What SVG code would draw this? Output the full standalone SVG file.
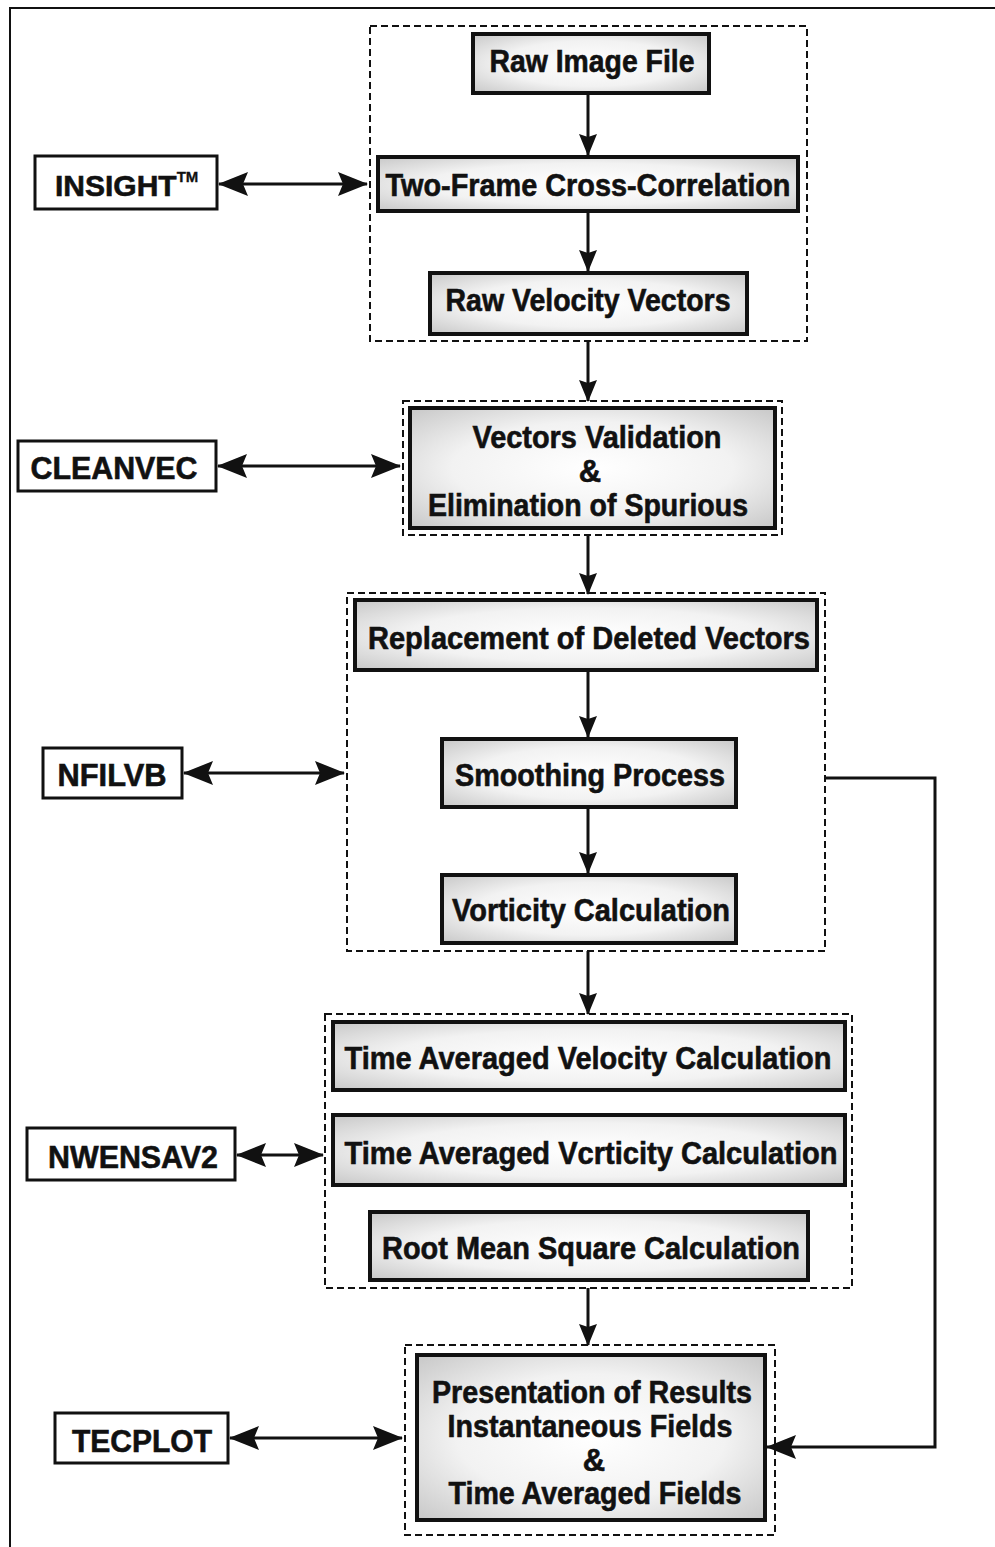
<svg xmlns="http://www.w3.org/2000/svg" width="995" height="1547" viewBox="0 0 995 1547">
<style>
.frame{fill:none;stroke:#111;stroke-width:2}
.grp{fill:none;stroke:#111;stroke-width:2;stroke-dasharray:7,4}
.proc{fill:url(#speck);stroke:#111;stroke-width:4}
.tool{fill:#fff;stroke:#111;stroke-width:3}
.conn{fill:none;stroke:#111;stroke-width:3}
text{font-family:"Liberation Sans Narrow","Liberation Sans",Arial,sans-serif;font-weight:bold;fill:#111;stroke:#111;stroke-width:0.6;text-anchor:middle}
.t{font-size:31px}
.s{font-size:15px;stroke-width:0.3}
</style>
<defs>
<radialGradient id="speck" cx="50%" cy="50%" r="70%">
<stop offset="0" stop-color="#ffffff"/>
<stop offset="0.55" stop-color="#f2f2f2"/>
<stop offset="1" stop-color="#c8c8c8"/>
</radialGradient>
<marker id="ah" viewBox="0 0 30 24" refX="29" refY="12" markerWidth="30" markerHeight="24" markerUnits="userSpaceOnUse" orient="auto-start-reverse">
<path d="M0,0 L30,12 L0,24 L5,12 z" fill="#111"/>
</marker>
<marker id="av" viewBox="0 0 22 18" refX="21" refY="9" markerWidth="22" markerHeight="18" markerUnits="userSpaceOnUse" orient="auto">
<path d="M0,0 L22,9 L0,18 L3,9 z" fill="#111"/>
</marker>
</defs>
<path class="frame" d="M10,1547 V8 H995"/>

<g id="connectors">
<line class="conn" x1="588" y1="93" x2="588" y2="155" marker-end="url(#av)"/>
<line class="conn" x1="588" y1="211" x2="588" y2="271" marker-end="url(#av)"/>
<line class="conn" x1="588" y1="341" x2="588" y2="401" marker-end="url(#av)"/>
<line class="conn" x1="588" y1="535" x2="588" y2="594" marker-end="url(#av)"/>
<line class="conn" x1="588" y1="670" x2="588" y2="737" marker-end="url(#av)"/>
<line class="conn" x1="588" y1="807" x2="588" y2="873" marker-end="url(#av)"/>
<line class="conn" x1="588" y1="951" x2="588" y2="1014" marker-end="url(#av)"/>
<line class="conn" x1="588" y1="1288" x2="588" y2="1345" marker-end="url(#av)"/>
<line class="conn" x1="219" y1="184" x2="367" y2="184" marker-start="url(#ah)" marker-end="url(#ah)"/>
<line class="conn" x1="218" y1="466" x2="400" y2="466" marker-start="url(#ah)" marker-end="url(#ah)"/>
<line class="conn" x1="184" y1="773" x2="344" y2="773" marker-start="url(#ah)" marker-end="url(#ah)"/>
<line class="conn" x1="237" y1="1155" x2="323" y2="1155" marker-start="url(#ah)" marker-end="url(#ah)"/>
<line class="conn" x1="230" y1="1438" x2="402" y2="1438" marker-start="url(#ah)" marker-end="url(#ah)"/>
<path class="conn" d="M826,778 H935 V1447 H767" marker-end="url(#ah)"/>
</g>

<g id="group-insight">
<rect class="grp" x="370" y="26" width="437" height="315"/>
</g>
<g id="raw-image-file">
<rect class="proc" x="473" y="34" width="236" height="59"/>
<text class="t" x="592" y="72" textLength="205" lengthAdjust="spacingAndGlyphs">Raw Image File</text>
</g>
<g id="two-frame">
<rect class="proc" x="378" y="157" width="420" height="54"/>
<text class="t" x="588" y="196" textLength="405" lengthAdjust="spacingAndGlyphs">Two-Frame Cross-Correlation</text>
</g>
<g id="raw-velocity">
<rect class="proc" x="430" y="273" width="317" height="61"/>
<text class="t" x="588" y="311" textLength="285" lengthAdjust="spacingAndGlyphs">Raw Velocity Vectors</text>
</g>
<g id="insight">
<rect class="tool" x="35" y="156" width="182" height="53"/>
<text x="55" y="196" style="font-size:30px;text-anchor:start">INSIGHT<tspan style="font-size:15px;stroke-width:0.3" dy="-14">TM</tspan></text>
</g>

<g id="group-cleanvec">
<rect class="grp" x="403" y="401" width="379" height="134"/>
</g>
<g id="validation">
<rect class="proc" x="410" y="408" width="365" height="120"/>
<text class="t" x="597" y="448" textLength="249" lengthAdjust="spacingAndGlyphs">Vectors Validation</text>
<text class="t" x="590" y="482">&amp;</text>
<text class="t" x="588" y="516" textLength="320" lengthAdjust="spacingAndGlyphs">Elimination of Spurious</text>
</g>
<g id="cleanvec">
<rect class="tool" x="18" y="441" width="198" height="50"/>
<text class="t" x="114" y="479" textLength="167" lengthAdjust="spacingAndGlyphs">CLEANVEC</text>
</g>

<g id="group-nfilvb">
<rect class="grp" x="347" y="593" width="478" height="358"/>
</g>
<g id="replacement">
<rect class="proc" x="355" y="600" width="462" height="70"/>
<text class="t" x="589" y="649" textLength="442" lengthAdjust="spacingAndGlyphs">Replacement of Deleted Vectors</text>
</g>
<g id="smoothing">
<rect class="proc" x="442" y="739" width="294" height="68"/>
<text class="t" x="590" y="786" textLength="270" lengthAdjust="spacingAndGlyphs">Smoothing Process</text>
</g>
<g id="vorticity">
<rect class="proc" x="442" y="875" width="294" height="68"/>
<text class="t" x="591" y="921" textLength="278" lengthAdjust="spacingAndGlyphs">Vorticity Calculation</text>
</g>
<g id="nfilvb">
<rect class="tool" x="43" y="748" width="139" height="50"/>
<text class="t" x="112" y="786" textLength="109" lengthAdjust="spacingAndGlyphs">NFILVB</text>
</g>

<g id="group-nwensav2">
<rect class="grp" x="325" y="1014" width="527" height="274"/>
</g>
<g id="ta-velocity">
<rect class="proc" x="333" y="1022" width="512" height="68"/>
<text class="t" x="588" y="1069" textLength="487" lengthAdjust="spacingAndGlyphs">Time Averaged Velocity Calculation</text>
</g>
<g id="ta-vorticity">
<rect class="proc" x="333" y="1115" width="512" height="70"/>
<text class="t" x="591" y="1164" textLength="493" lengthAdjust="spacingAndGlyphs">Time Averaged Vcrticity Calculation</text>
</g>
<g id="rms">
<rect class="proc" x="370" y="1212" width="438" height="68"/>
<text class="t" x="591" y="1259" textLength="418" lengthAdjust="spacingAndGlyphs">Root Mean Square Calculation</text>
</g>
<g id="nwensav2">
<rect class="tool" x="27" y="1128" width="208" height="52"/>
<text class="t" x="133" y="1168" textLength="170" lengthAdjust="spacingAndGlyphs">NWENSAV2</text>
</g>

<g id="group-tecplot">
<rect class="grp" x="405" y="1345" width="370" height="190"/>
</g>
<g id="presentation">
<rect class="proc" x="417" y="1355" width="348" height="165"/>
<text class="t" x="592" y="1403" textLength="320" lengthAdjust="spacingAndGlyphs">Presentation of Results</text>
<text class="t" x="590" y="1437" textLength="285" lengthAdjust="spacingAndGlyphs">Instantaneous Fields</text>
<text class="t" x="594" y="1471">&amp;</text>
<text class="t" x="595" y="1504" textLength="293" lengthAdjust="spacingAndGlyphs">Time Averaged Fields</text>
</g>
<g id="tecplot">
<rect class="tool" x="55" y="1413" width="173" height="50"/>
<text class="t" x="142" y="1452" textLength="140" lengthAdjust="spacingAndGlyphs">TECPLOT</text>
</g>
</svg>
